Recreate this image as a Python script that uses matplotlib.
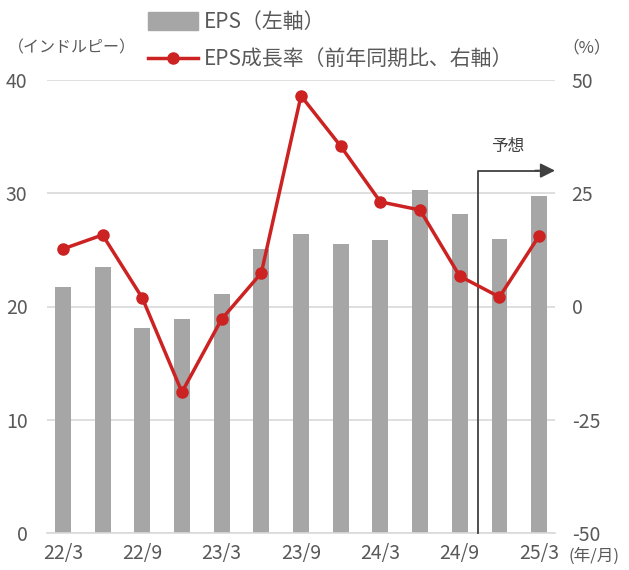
import matplotlib
matplotlib.use("Agg")
import matplotlib.pyplot as plt
import numpy as np
from matplotlib.lines import Line2D
from matplotlib.patches import Patch

plt.rcParams["font.family"] = ["Noto Sans CJK JP", "DejaVu Sans"]
plt.rcParams["axes.unicode_minus"] = False

quarters = ["22/3", "22/6", "22/9", "22/12", "23/3", "23/6", "23/9",
            "23/12", "24/3", "24/6", "24/9", "24/12", "25/3"]
eps = [21.7, 23.5, 18.1, 18.9, 21.1, 25.1, 26.4, 25.5, 25.9, 30.3, 28.2, 26.0, 29.8]
growth = [12.7, 15.8, 1.9, -18.9, -2.8, 7.4, 46.5, 35.4, 23.1, 21.3, 6.7, 2.1, 15.6]
tick_labels = ["22/3", "22/9", "23/3", "23/9", "24/3", "24/9", "25/3"]
forecast_x = 10.45
forecast_top = 32.0

bar_color = "#A6A6A6"
line_color = "#CC2222"
text_color = "#595959"

fig = plt.figure(figsize=(6.29, 5.70), dpi=100)
ax = fig.add_axes([47 / 629, 37 / 570, 508 / 629, 453 / 570])
ax2 = ax.twinx()

x = np.arange(len(quarters))
ax.bar(x, eps, width=0.4, color=bar_color, zorder=2)
ax2.plot(x, growth, color=line_color, lw=2.5, marker="o", ms=8, zorder=3)

ax.set_xlim(-0.4, 12.4)
ax.set_ylim(0, 40)
ax.set_yticks([0, 10, 20, 30, 40])
ax2.set_ylim(-50, 50)
ax2.set_yticks([-50, -25, 0, 25, 50])
ax.set_xticks(x[::2])
ax.set_xticklabels(tick_labels)

ax.yaxis.grid(True, color="#D9D9D9", lw=1.2, zorder=0)
ax.set_axisbelow(True)
for a in (ax, ax2):
    for s in a.spines.values():
        s.set_visible(False)
    a.tick_params(length=0, labelsize=14, colors=text_color)
ax.spines["bottom"].set_visible(True)
ax.spines["bottom"].set_color("#D9D9D9")
ax.spines["bottom"].set_linewidth(1.2)
ax.tick_params(axis="y", pad=14)
ax2.tick_params(axis="y", pad=12)
ax.tick_params(axis="x", pad=7)

# forecast marker
ax.plot([forecast_x, forecast_x, 12.0], [0, forecast_top, forecast_top],
        color="#404040", lw=1.3, zorder=4, clip_on=False)
ax.annotate("", xy=(12.4, forecast_top), xytext=(11.9, forecast_top),
            arrowprops=dict(arrowstyle="-|>", color="#404040", lw=1.3,
                            mutation_scale=22, shrinkA=0, shrinkB=0),
            annotation_clip=False)
ax.text(11.2, forecast_top + 1.4, "予想", fontsize=12, color="#404040",
        ha="center", va="bottom")

fig.text(8 / 629, 1 - 48 / 570, "（インドルピー）", fontsize=11.5,
         color=text_color, va="center", ha="left")
fig.text(562 / 629, 1 - 48 / 570, "（%）", fontsize=12, color=text_color,
         va="center", ha="left")
fig.text(569 / 629, 1 - 556 / 570, "(年/月)", fontsize=12, color=text_color,
         va="center", ha="left")

handles = [Patch(color=bar_color, label="EPS（左軸）"),
           Line2D([0], [0], color=line_color, lw=2.5, marker="o", ms=8,
                  label="EPS成長率（前年同期比、右軸）")]
fig.legend(handles=handles, loc="upper left", bbox_to_anchor=(146 / 629, 1 - 9 / 570),
           frameon=False, fontsize=15, labelcolor=text_color, borderaxespad=0,
           borderpad=0.1, handlelength=2.4, handleheight=0.9, handletextpad=0.3,
           labelspacing=0.75)

fig.savefig("out.png", dpi=100)
